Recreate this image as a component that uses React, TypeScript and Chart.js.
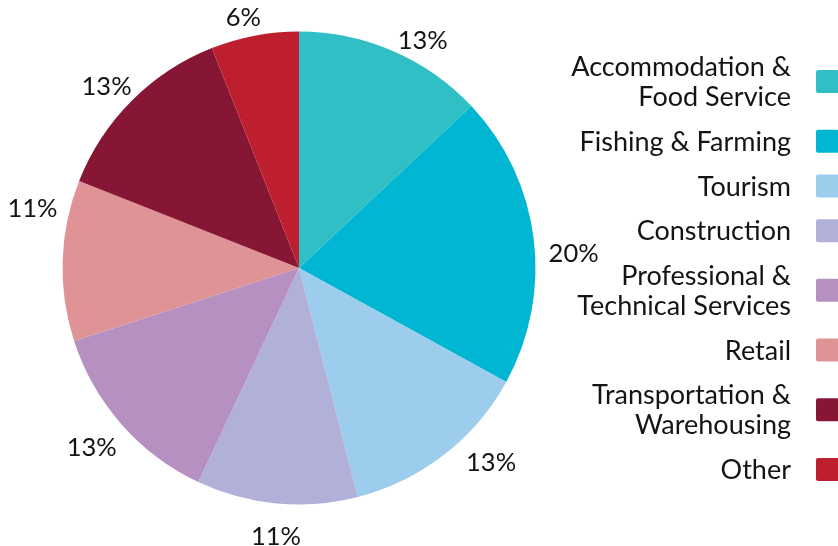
import React, { useEffect, useRef } from "react";
import { Chart, registerables } from "chart.js";

Chart.register(...registerables);

const categories = [
  "Accommodation &\nFood Service",
  "Fishing & Farming",
  "Tourism",
  "Construction",
  "Professional &\nTechnical Services",
  "Retail",
  "Transportation &\nWarehousing",
  "Other",
];
const shares = [13, 20, 13, 11, 13, 11, 13, 6];
const colors = ["#31BFC6", "#00B6D3", "#9CCDEC", "#B0B0D9", "#B690C1", "#E09396", "#861634", "#BE1F2E"];
// small angular nudges (degrees) applied to the outside percentage labels
const labelAngleNudge = [3.3, 2.6, -6.4, -0.6, 0.2, 12.9, 0.7, -1.2];

const FONT = "Lato, 'Noto Sans', sans-serif";
const TEXT_COLOR = "#141414";

const pctLabels = {
  id: "pctLabels",
  afterDatasetsDraw(chart: any) {
    const ctx = chart.ctx;
    const meta = chart.getDatasetMeta(0);
    const fs = 25.5;
    const yShift = 6;
    ctx.save();
    ctx.font = `${fs}px ${FONT}`;
    ctx.fillStyle = TEXT_COLOR;
    ctx.textAlign = "center";
    ctx.textBaseline = "alphabetic";
    meta.data.forEach((arc: any, i: number) => {
      const p = arc.getProps(["x", "y", "startAngle", "endAngle", "outerRadius"], true);
      const a = (p.startAngle + p.endAngle) / 2 + (labelAngleNudge[i] * Math.PI) / 180;
      const R = p.outerRadius + 14;
      const text = `${shares[i]}%`;
      const w = ctx.measureText(text).width;
      const h = 24;
      const cx = p.x + Math.cos(a) * R + (Math.cos(a) * w) / 2;
      const cy = p.y + yShift + Math.sin(a) * R + (Math.sin(a) * h) / 2;
      ctx.fillText(text, cx, cy + (fs * 0.72) / 2);
    });
    ctx.restore();
  },
};

const sideLegend = {
  id: "sideLegend",
  afterDraw(chart: any) {
    const ctx = chart.ctx;
    const fs = 27;
    const lineH = 30;
    const gap = 14.7;
    const cap = fs * 0.72;
    const items = categories.map((c) => c.split("\n"));
    const nLines = items.reduce((s, l) => s + l.length, 0);
    const span = cap + (nLines - 1) * lineH + (items.length - 1) * gap;
    const area = chart.chartArea;
    const midY = (area.top + area.bottom) / 2;
    let base = midY - span / 2 + cap;
    const textRight = chart.width - 47;
    const boxX = chart.width - 22;
    const box = 23;
    ctx.save();
    ctx.font = `${fs}px ${FONT}`;
    ctx.textAlign = "right";
    ctx.textBaseline = "alphabetic";
    items.forEach((lines, i) => {
      const capTop = base - cap;
      lines.forEach((ln, k) => {
        ctx.fillStyle = TEXT_COLOR;
        ctx.fillText(ln, textRight, base + k * lineH);
      });
      const lastBase = base + (lines.length - 1) * lineH;
      const cyBox = (capTop + lastBase) / 2;
      ctx.fillStyle = colors[i];
      ctx.beginPath();
      if ((ctx as any).roundRect) {
        (ctx as any).roundRect(boxX, cyBox - box / 2, box, box, 2);
      } else {
        ctx.rect(boxX, cyBox - box / 2, box, box);
      }
      ctx.fill();
      base = lastBase + lineH + gap;
    });
    ctx.restore();
  },
};

export default function App() {
  const canvasRef = useRef<HTMLCanvasElement | null>(null);

  useEffect(() => {
    document.body.style.margin = "0";
    let chart: Chart | null = null;
    let cancelled = false;
    const make = () => {
      if (cancelled || !canvasRef.current) return;
      chart = new Chart(canvasRef.current, {
        type: "pie",
        data: {
          labels: categories,
          datasets: [
            {
              data: shares,
              backgroundColor: colors,
              borderWidth: 0,
            },
          ],
        },
        options: {
          animation: false,
          responsive: true,
          maintainAspectRatio: false,
          layout: { padding: { left: 62.5, right: 302.5, top: 31.5, bottom: 41.5 } },
          plugins: {
            legend: { display: false },
            tooltip: { enabled: false },
          },
        },
        plugins: [pctLabels, sideLegend],
      });
    };
    const fontsApi = (document as any).fonts;
    if (fontsApi && fontsApi.load) {
      Promise.all([fontsApi.load(`27px Lato`), fontsApi.load(`25.5px Lato`)])
        .catch(() => null)
        .then(make);
    } else {
      make();
    }
    return () => {
      cancelled = true;
      if (chart) chart.destroy();
    };
  }, []);

  return (
    <div style={{ position: "absolute", left: 0, top: 0, width: 838, height: 546, background: "#fff" }}>
      <canvas ref={canvasRef} />
    </div>
  );
}
